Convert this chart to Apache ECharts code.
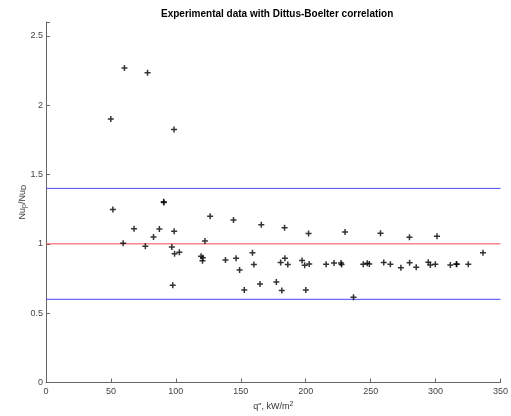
<!DOCTYPE html>
<html>
<head>
<meta charset="utf-8">
<script src="https://cdn.jsdelivr.net/npm/echarts@6/dist/echarts.min.js"></script>
<style>
  html, body { margin: 0; padding: 0; background: #fff; }
  #chart { width: 511px; height: 416px; }
</style>
</head>
<body>
<div id="chart"></div>
<script>
// heat flux q'', kW/m2
const qFlux = [
  49.9, 51.5, 59.4, 60.4, 67.8, 76.5, 78.2, 82.8, 87.3, 90.6,
  90.8, 96.9, 97.6, 98.7, 98.6, 99.0, 102.7, 119.4, 120.8, 120.5,
  122.4, 126.4, 138.2, 144.4, 146.4, 149.1, 152.7, 159.0, 160.1, 164.8,
  165.8, 177.4, 180.7, 181.6, 183.7, 184.0, 186.2, 197.2, 199.2, 200.1,
  202.2, 202.7, 215.7, 221.8, 227.2, 227.6, 230.3, 236.8, 244.3, 247.4,
  249.0, 257.6, 260.1, 265.2, 273.3, 279.9, 280.0, 285.1, 294.4, 296.0,
  299.8, 301.1, 311.4, 316.0, 316.3, 325.2, 336.5
]
// Nu_p / Nu_D
const nuRatio = [
  1.900, 1.247, 1.004, 2.269, 1.109, 0.983, 2.234, 1.050, 1.107, 1.303,
  1.298, 0.978, 0.701, 1.090, 1.824, 0.929, 0.939, 0.910, 0.900, 0.878,
  1.020, 1.199, 0.884, 1.172, 0.896, 0.812, 0.667, 0.935, 0.851, 0.711,
  1.137, 0.724, 0.866, 0.663, 1.116, 0.896, 0.851, 0.880, 0.846, 0.667,
  1.075, 0.854, 0.852, 0.861, 0.862, 0.851, 1.085, 0.615, 0.852, 0.860,
  0.855, 1.076, 0.865, 0.852, 0.827, 1.048, 0.864, 0.832, 0.867, 0.848,
  0.852, 1.054, 0.848, 0.855, 0.853, 0.852, 0.935
]
// Dittus-Boelter correlation and its band
const corrLevels = [1.4, 1.0, 0.6]
const corrColors = ['#4848f8', '#f84848', '#4848f8']
const xMin = 0, xMax = 350

const points = qFlux.map((q, i) => [q, nuRatio[i]])
const plus = 'path://M-1,-4L1,-4L1,-1L4,-1L4,1L1,1L1,4L-1,4L-1,1L-4,1L-4,-1L-1,-1Z'

const chart = echarts.init(document.getElementById('chart'))
const font = 'Liberation Sans, Arial, sans-serif'

const lineSeries = corrLevels.map((v, i) => ({
  type: 'line',
  data: [[xMin, v], [xMax, v]],
  symbol: 'none',
  silent: true,
  lineStyle: { color: corrColors[i], width: 1 },
  z: 2
}))

const option = {
  animation: false,
  textStyle: { fontFamily: font },
  title: {
    text: 'Experimental data with Dittus-Boelter correlation',
    left: 156,
    top: 4,
    textStyle: { fontSize: 10, fontWeight: 'bold', color: '#000', fontFamily: font }
  },
  grid: { left: 46, right: 8, top: 22, bottom: 28 },
  xAxis: {
    type: 'value',
    min: xMin, max: xMax, interval: 50,
    name: '{a|q", kW/m}{s|2}',
    nameLocation: 'middle',
    nameGap: 18,
    nameMoveOverlap: false,
    nameTextStyle: {
      rich: {
        a: { fontSize: 9, color: '#333', fontFamily: font },
        s: { fontSize: 7, color: '#333', fontFamily: font, verticalAlign: 'top', padding: [0, 0, 5, 0] }
      }
    },
    splitLine: { show: false },
    axisLine: { lineStyle: { color: '#666', width: 1 } },
    axisTick: { inside: true, length: 4, lineStyle: { color: '#666' } },
    axisLabel: { fontSize: 9, color: '#444', margin: 5 }
  },
  yAxis: {
    type: 'value',
    min: 0, max: 2.6, interval: 0.5,
    name: '{a|Nu}{s|p}{a|/Nu}{s|D}',
    nameLocation: 'middle',
    nameGap: 18,
    nameMoveOverlap: false,
    nameTextStyle: {
      rich: {
        a: { fontSize: 9, color: '#333', fontFamily: font },
        s: { fontSize: 7, color: '#333', fontFamily: font, verticalAlign: 'bottom', padding: [4, 0, 0, 0] }
      }
    },
    splitLine: { show: false },
    axisLine: { show: true, lineStyle: { color: '#666', width: 1 } },
    axisTick: { show: true, inside: true, length: 4, lineStyle: { color: '#666' } },
    axisLabel: {
      fontSize: 9, color: '#444', margin: 3,
      formatter: v => Math.abs(v * 2 - Math.round(v * 2)) < 1e-6 ? String(v) : ''
    }
  },
  series: [
    ...lineSeries,
    {
      type: 'scatter',
      data: points,
      symbol: plus,
      symbolSize: 6,
      itemStyle: { color: '#000' },
      silent: true,
      z: 3
    }
  ]
}
chart.setOption(option)
</script>
</body>
</html>
